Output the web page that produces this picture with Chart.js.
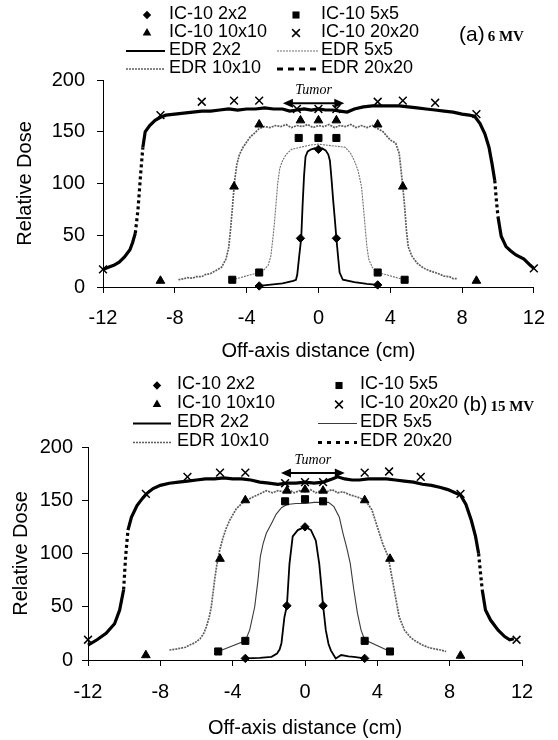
<!DOCTYPE html>
<html><head><meta charset="utf-8">
<script src="https://cdn.jsdelivr.net/npm/chart.js@4.4.1/dist/chart.umd.min.js"></script>
<style>
html,body{margin:0;padding:0;background:#fff;}
#wrap{position:relative;width:558px;height:740px;overflow:hidden;background:#fff;}
.panel{position:absolute;left:0;width:558px;}
#pa{top:0;height:365px;}
#pb{top:365px;height:375px;}
canvas{display:block;}
</style></head><body>
<div id="wrap">
<div class="panel" id="pa"><canvas id="ca" width="558" height="365"></canvas></div>
<div class="panel" id="pb"><canvas id="cb" width="558" height="375"></canvas></div>
</div>
<script>
// ---------- tick labels ----------
const xTicks = [-12, -8, -4, 0, 4, 8, 12];
const yTicks = [0, 50, 100, 150, 200];
const xTitle = 'Off-axis distance (cm)';
const yTitle = 'Relative Dose';
const seriesNames = ['IC-10 2x2', 'IC-10 5x5', 'IC-10 10x10', 'IC-10 20x20', 'EDR 2x2', 'EDR 5x5', 'EDR 10x10', 'EDR 20x20'];

// ---------- panel (a) 6 MV ----------
const aIC2x = [-3.3, -1.0, 0, 1.0, 3.3];
const aIC2y = [1, 47, 133, 47, 2];
const aIC5x = [-4.8, -3.3, -1.1, 0, 1.0, 3.3, 4.8];
const aIC5y = [7, 14, 144, 144, 144, 14, 7];
const aIC10x = [-8.8, -4.7, -3.3, -1.0, 0, 1.0, 3.3, 4.7, 8.8];
const aIC10y = [6, 97, 157, 161, 161, 161, 157, 97, 6];
const aIC20x = [-12, -8.8, -6.5, -4.7, -3.3, -1.2, 0, 1.0, 3.3, 4.7, 6.5, 8.8, 12];
const aIC20y = [17, 166, 179, 180, 180, 172, 172, 172, 179, 180, 178, 167, 18];

const aEDR2x = [-3.3, -2.0, -1.4, -1.25, -1.18, -1.07, -0.96, -0.88, -0.8, -0.72, -0.6, -0.4, -0.2, 0, 0.2, 0.4, 0.55, 0.64, 0.73, 0.82, 0.92, 1.0, 1.1, 1.18, 1.36, 2.0, 2.7, 3.3];
const aEDR2y = [1, 3.5, 6, 7, 12, 30, 47, 80, 108, 126, 131, 133, 134, 133, 134, 132, 128, 122, 104, 84, 64, 47, 28, 14, 7, 4.8, 3, 2];
const aEDR5x = [-4.8, -3.3, -3.0, -2.8, -2.65, -2.55, -2.45, -2.36, -2.27, -2.15, -2.0, -1.8, -1.5, -1.0, -0.5, 0, 0.5, 1.0, 1.5, 1.8, 2.0, 2.2, 2.4, 2.5, 2.6, 2.7, 2.8, 3.0, 3.3, 4.8];
const aEDR5y = [7, 14, 17, 21, 30, 45, 62, 81, 100, 115, 122, 128, 133, 135, 137, 138, 137, 136, 135, 129, 122, 113, 97, 78, 58, 39, 27, 19, 14, 7];
const aEDR10x = [-7.8, -7.5, -7.3, -7.0, -6.8, -6.5, -6.3, -6.0, -5.7, -5.4, -5.15, -5.0, -4.9, -4.8, -4.72, -4.65, -4.55, -4.4, -4.2, -4.0, -3.8, -3.6, -3.3, -3.0, -2.7, -2.4, -2.1, -1.8, -1.5, -1.2, -0.9, -0.6, -0.3, 0, 0.3, 0.6, 0.9, 1.2, 1.5, 1.8, 2.1, 2.4, 2.7, 3.0, 3.3, 3.6, 4.0, 4.3, 4.5, 4.6, 4.7, 4.8, 4.9, 5.0, 5.2, 5.5, 5.8, 6.0, 6.3, 6.5, 6.8, 7.0, 7.3, 7.5, 7.7];
const aEDR10y = [7, 8, 9, 8.5, 10, 10, 12, 13, 16, 19, 27, 38, 55, 75, 92, 105, 118, 128, 135, 140, 145, 148, 153, 155, 154, 156, 155, 157, 154, 156, 155, 157, 154, 156, 155, 157, 154, 156, 155, 157, 154, 156, 154, 156, 153, 150, 142, 139, 129, 113, 97, 78, 55, 39, 30, 23, 19, 17, 15, 14, 12, 10.5, 10, 8, 8];
const aEDR20x = [-12, -11.7, -11.4, -11.1, -10.8, -10.5, -10.35, -10.2, -10.05, -9.9, -9.78, -9.65, -9.4, -9.1, -8.8, -8.5, -8.0, -7.5, -7.0, -6.5, -6.0, -5.5, -5.0, -4.5, -4.0, -3.5, -3.0, -2.5, -2.0, -1.6, -1.2, -0.8, -0.4, 0, 0.4, 0.8, 1.2, 1.6, 2.0, 2.5, 3.0, 3.5, 4.0, 4.5, 5.0, 5.5, 6.0, 6.5, 7.0, 7.5, 8.0, 8.4, 8.7, 9.0, 9.27, 9.5, 9.67, 9.82, 9.91, 10.0, 10.18, 10.45, 10.7, 11.0, 11.45, 11.8, 12];
const aEDR20y = [17, 19, 21, 24, 29, 36, 43, 52, 75, 110, 135, 150, 156, 161, 164, 166, 167, 168, 169, 170, 170, 171, 172, 171, 172, 172, 173, 172, 172, 170, 171, 172, 171, 172, 171, 171, 170, 169, 172, 174, 175, 175, 175, 175, 174, 173, 172, 171, 170, 169, 167, 166, 165, 158, 148, 135, 119, 103, 84, 68, 49, 39, 35, 31, 27, 21, 18];

// ---------- panel (b) 15 MV ----------
const bIC2x = [-3.3, -1.0, 0, 1.0, 3.3];
const bIC2y = [1.5, 51, 125, 51, 1.5];
const bIC5x = [-4.8, -3.3, -1.1, 0, 1.0, 3.3, 4.7];
const bIC5y = [8, 18, 149, 151, 149, 18, 8];
const bIC10x = [-8.8, -4.7, -3.3, -1.0, 0, 1.0, 3.3, 4.7, 8.6];
const bIC10y = [4.5, 95, 150, 159, 160, 159, 150, 95, 4];
const bIC20x = [-12, -8.8, -6.5, -4.7, -3.3, -1.1, 0, 1.0, 3.3, 4.65, 6.4, 8.6, 11.7];
const bIC20y = [19, 156, 172, 176, 176, 166, 167, 167, 176, 177, 172, 156, 19];

const bEDR2x = [-3.3, -2.5, -1.85, -1.55, -1.4, -1.3, -1.14, -1.0, -0.86, -0.68, -0.4, 0, 0.33, 0.6, 0.79, 0.9, 1.0, 1.15, 1.3, 1.43, 1.7, 2.0, 2.4, 2.7, 3.3];
const bEDR2y = [1.5, 2, 3, 6, 10, 16, 40, 51, 90, 116, 122, 125, 122, 112, 90, 70, 51, 28, 15, 9, 1.5, 4.7, 3.5, 3, 1.5];
const bEDR5x = [-4.8, -3.3, -3.06, -2.78, -2.6, -2.47, -2.32, -2.14, -1.86, -1.59, -1.3, -1.0, -0.5, 0, 0.5, 1.0, 1.3, 1.6, 1.9, 2.1, 2.3, 2.5, 2.7, 2.9, 3.1, 3.3, 4.7];
const bEDR5y = [8, 18, 28, 50, 75, 97, 109, 119, 128, 137, 143, 146, 147, 147, 148, 148, 148, 144, 134, 119, 106, 91, 66, 44, 28, 19, 8];
const bEDR10x = [-7.5, -7.2, -6.9, -6.6, -6.4, -6.1, -5.8, -5.6, -5.46, -5.3, -5.18, -5.0, -4.87, -4.72, -4.53, -4.35, -4.17, -3.8, -3.43, -3.1, -2.88, -2.5, -2.14, -1.8, -1.5, -1.2, -0.9, -0.6, -0.3, 0, 0.3, 0.6, 0.9, 1.2, 1.5, 1.8, 2.1, 2.5, 2.9, 3.3, 3.5, 3.7, 4.0, 4.3, 4.6, 4.9, 5.05, 5.2, 5.5, 5.8, 6.0, 6.3, 6.5, 6.8, 7.0, 7.3, 7.5, 7.8];
const bEDR10y = [9.4, 10, 11, 12, 14, 16, 20, 25, 31, 40, 50, 75, 90, 103, 115, 124, 131, 142, 148, 151, 153, 156, 159, 157, 159, 158, 160, 157, 159, 158, 160, 157, 159, 158, 160, 157, 158, 155, 153, 150, 146, 141, 125, 109, 97, 69, 55, 41, 28, 22, 19, 16, 14, 12, 11, 10, 9.4, 8];
const bEDR20x = [-12, -11.5, -11.0, -10.53, -10.25, -10.03, -9.92, -9.79, -9.6, -9.29, -9.0, -8.77, -8.4, -8.0, -7.5, -7.0, -6.5, -6.0, -5.5, -5.0, -4.5, -4.0, -3.5, -3.0, -2.5, -2.0, -1.5, -1.0, -0.5, 0, 0.5, 1.0, 1.5, 1.8, 2.2, 2.6, 3.0, 3.5, 4.0, 4.5, 5.0, 5.5, 6.0, 6.5, 7.0, 7.5, 7.9, 8.3, 8.6, 8.9, 9.2, 9.43, 9.6, 9.71, 9.8, 9.98, 10.26, 10.68, 11.04, 11.32, 11.55];
const bEDR20y = [14, 19, 25, 34, 47, 66, 97, 122, 134, 145, 151.5, 156, 161, 164, 166, 167, 168, 169, 170, 170, 171, 170, 170, 169, 167, 166, 165, 166, 166, 167, 166, 167, 170, 172, 170, 169, 169, 170, 170, 170, 169, 168, 167, 165, 164, 162, 160, 157, 155, 146, 131, 116, 100, 81, 66, 47, 37.5, 28, 22, 19, 20];

// tumour arrow (data coordinates)
const aTumor = {x0: -1.98, x1: 1.44, y: 177.5, labelY: 190};
const bTumor = {x0: -1.33, x1: 2.2, y: 175.6, labelY: 187.5};

const FONT = '"Liberation Sans", Arial, Helvetica, sans-serif';
function pts(xs, ys) { return xs.map((x, i) => ({x: x, y: ys[i]})); }

function drawMarker(ctx, style, x, y, r, bw) {
  ctx.save();
  ctx.fillStyle = '#000'; ctx.strokeStyle = '#000'; ctx.lineWidth = bw || 1;
  ctx.beginPath();
  if (style === 'rectRot') {
    ctx.moveTo(x, y - r); ctx.lineTo(x + r, y); ctx.lineTo(x, y + r); ctx.lineTo(x - r, y); ctx.closePath(); ctx.fill();
  } else if (style === 'rect') {
    const s = r * Math.SQRT1_2; ctx.rect(x - s, y - s, 2 * s, 2 * s); ctx.fill();
  } else if (style === 'triangle') {
    let a = 0;
    ctx.moveTo(x + Math.sin(a) * r, y - Math.cos(a) * r);
    a += 2 * Math.PI / 3; ctx.lineTo(x + Math.sin(a) * r, y - Math.cos(a) * r);
    a += 2 * Math.PI / 3; ctx.lineTo(x + Math.sin(a) * r, y - Math.cos(a) * r);
    ctx.closePath(); ctx.fill();
  } else if (style === 'crossRot') {
    const o = r * Math.SQRT1_2;
    ctx.moveTo(x - o, y - o); ctx.lineTo(x + o, y + o);
    ctx.moveTo(x - o, y + o); ctx.lineTo(x + o, y - o); ctx.stroke();
  }
  ctx.restore();
}

const legendPlugin = {
  id: 'customLegend',
  afterDraw(chart, args, opts) {
    const ctx = chart.ctx;
    ctx.save();
    ctx.textBaseline = 'middle'; ctx.textAlign = 'left'; ctx.fillStyle = '#000';
    opts.items.forEach(it => {
      const ds = chart.data.datasets[it.ds];
      if (ds.showLine) {
        ctx.save();
        ctx.strokeStyle = ds.borderColor; ctx.lineWidth = ds.borderWidth;
        ctx.setLineDash(it.dash || ds.borderDash || []);
        ctx.beginPath(); ctx.moveTo(it.x0, it.y + 1); ctx.lineTo(it.x1, it.y + 1); ctx.stroke();
        ctx.restore();
      } else {
        drawMarker(ctx, ds.pointStyle, it.mx, it.y + 1, ds.pointRadius, ds.borderWidth);
      }
      ctx.font = opts.font;
      ctx.fillText(ds.label, it.tx, it.y);
    });
    ctx.font = opts.tagFont;
    ctx.fillText(opts.tag, opts.tagX, opts.tagY);
    const w = ctx.measureText(opts.tag).width;
    ctx.font = opts.energyFont;
    ctx.fillText(opts.energy, opts.tagX + w + 3, opts.tagY + 2);
    ctx.restore();
  }
};

const tumorPlugin = {
  id: 'tumor',
  afterDatasetsDraw(chart, args, opts) {
    const ctx = chart.ctx, xs = chart.scales.x, ys = chart.scales.y;
    const t = opts.t;
    const x0 = xs.getPixelForValue(t.x0), x1 = xs.getPixelForValue(t.x1), y = ys.getPixelForValue(t.y);
    ctx.save();
    ctx.strokeStyle = '#000'; ctx.fillStyle = '#000'; ctx.lineWidth = 2;
    ctx.beginPath(); ctx.moveTo(x0 + 6, y); ctx.lineTo(x1 - 6, y); ctx.stroke();
    const L = 10, H = 4.5;
    ctx.beginPath(); ctx.moveTo(x0, y); ctx.lineTo(x0 + L, y - H); ctx.lineTo(x0 + L, y + H); ctx.closePath(); ctx.fill();
    ctx.beginPath(); ctx.moveTo(x1, y); ctx.lineTo(x1 - L, y - H); ctx.lineTo(x1 - L, y + H); ctx.closePath(); ctx.fill();
    ctx.font = 'italic 14px "Liberation Serif", "Times New Roman", serif';
    ctx.textAlign = 'center'; ctx.textBaseline = 'middle';
    ctx.fillText('Tumor', (x0 + x1) / 2, ys.getPixelForValue(t.labelY));
    ctx.restore();
  }
};

function steep(c) {
  const dx = Math.abs(c.p1.parsed.x - c.p0.parsed.x) || 1e-6;
  return Math.abs(c.p1.parsed.y - c.p0.parsed.y) / dx > 120;
}

function buildDatasets(d, edr5Color, edr5Dash) {
  const marker = (i, xs, ys, style, r, bw) => ({
    label: seriesNames[i], data: pts(xs, ys), showLine: false, pointStyle: style,
    pointRadius: r, pointBorderWidth: bw, borderWidth: bw, pointBackgroundColor: '#000',
    pointBorderColor: '#000', borderColor: '#000', backgroundColor: '#000', clip: false, order: 0
  });
  const line = (i, xs, ys, color, w, dash, extra) => Object.assign({
    label: seriesNames[i], data: pts(xs, ys), showLine: true, pointRadius: 0,
    borderColor: color, borderWidth: w, borderDash: dash, tension: 0, fill: false, order: 1, clip: false
  }, extra || {});
  return [
    marker(0, d.ic2x, d.ic2y, 'rectRot', 4.2, 1),
    marker(1, d.ic5x, d.ic5y, 'rect', 5, 1),
    marker(2, d.ic10x, d.ic10y, 'triangle', 5, 1),
    marker(3, d.ic20x, d.ic20y, 'crossRot', 5.5, 1.5),
    line(4, d.e2x, d.e2y, '#000', 1.8, []),
    line(5, d.e5x, d.e5y, edr5Color, 1.1, edr5Dash),
    line(6, d.e10x, d.e10y, '#5e5e5e', 1.7, [2, 1]),
    line(7, d.e20x, d.e20y, '#000', 3.2, [], {segment: {borderDash: c => steep(c) ? [3, 3] : undefined}})
  ];
}

function makeChart(id, datasets, L, legendOpts, tumor) {
  return new Chart(document.getElementById(id), {
    type: 'scatter',
    data: {datasets: datasets},
    plugins: [legendPlugin, tumorPlugin],
    options: {
      responsive: false, animation: false, devicePixelRatio: 1,
      layout: {padding: {left: 0, right: L.right, top: L.top, bottom: 0}},
      plugins: {
        legend: {display: false}, tooltip: {enabled: false},
        customLegend: legendOpts, tumor: {t: tumor}
      },
      scales: {
        x: {
          type: 'linear', min: -12, max: 12,
          afterBuildTicks: s => { s.ticks = xTicks.map(v => ({value: v})); },
          afterFit: s => { s.height = L.xh; },
          grid: {drawOnChartArea: false, drawTicks: true, tickLength: 6, color: '#000', lineWidth: 1},
          border: {display: true, color: '#000', width: 1},
          ticks: {color: '#000', font: {family: FONT, size: 20}, padding: L.xpad, maxRotation: 0},
          title: {display: true, text: xTitle, color: '#000', font: {family: FONT, size: 20}, padding: {top: 0, bottom: L.tpad}}
        },
        y: {
          type: 'linear', min: 0, max: 200,
          afterBuildTicks: s => { s.ticks = yTicks.map(v => ({value: v})); },
          afterFit: s => { s.width = L.yw; },
          grid: {drawOnChartArea: false, drawTicks: true, tickLength: 6, color: '#000', lineWidth: 1},
          border: {display: true, color: '#000', width: 1},
          ticks: {color: '#000', font: {family: FONT, size: 20}, padding: L.ypad},
          title: {display: true, text: yTitle, color: '#000', font: {family: FONT, size: 20}, padding: {top: L.ytpad, bottom: 0}}
        }
      }
    }
  });
}

const legendFont = '18px ' + FONT;
const dsA = buildDatasets({
  ic2x: aIC2x, ic2y: aIC2y, ic5x: aIC5x, ic5y: aIC5y, ic10x: aIC10x, ic10y: aIC10y, ic20x: aIC20x, ic20y: aIC20y,
  e2x: aEDR2x, e2y: aEDR2y, e5x: aEDR5x, e5y: aEDR5y, e10x: aEDR10x, e10y: aEDR10y, e20x: aEDR20x, e20y: aEDR20y
}, '#707070', [2, 1]);
makeChart('ca', dsA, {right: 12, top: 80, xh: 78, yw: 103, xpad: 13, tpad: 2, ypad: 12, ytpad: 13}, {
  font: legendFont, tagFont: '21px ' + FONT, energyFont: 'bold 15px "Liberation Serif", serif',
  tag: '(a)', energy: '6 MV', tagX: 459, tagY: 35,
  items: [
    {ds: 0, mx: 147, y: 14, tx: 169}, {ds: 1, mx: 296, y: 14, tx: 321},
    {ds: 2, mx: 147, y: 32, tx: 169}, {ds: 3, mx: 296, y: 32, tx: 321},
    {ds: 4, x0: 126, x1: 165, y: 50, tx: 169}, {ds: 5, x0: 277, x1: 318, y: 50, tx: 321},
    {ds: 6, x0: 126, x1: 165, y: 68, tx: 169}, {ds: 7, x0: 277, x1: 318, y: 68, tx: 321, dash: [6, 5]}
  ]
}, aTumor);

const dsB = buildDatasets({
  ic2x: bIC2x, ic2y: bIC2y, ic5x: bIC5x, ic5y: bIC5y, ic10x: bIC10x, ic10y: bIC10y, ic20x: bIC20x, ic20y: bIC20y,
  e2x: bEDR2x, e2y: bEDR2y, e5x: bEDR5x, e5y: bEDR5y, e10x: bEDR10x, e10y: bEDR10y, e20x: bEDR20x, e20y: bEDR20y
}, '#3a3a3a', []);
makeChart('cb', dsB, {right: 36, top: 82, xh: 80, yw: 88, xpad: 14, tpad: 0, ypad: 9, ytpad: 9}, {
  font: legendFont, tagFont: '20px ' + FONT, energyFont: 'bold 15px "Liberation Serif", serif',
  tag: '(b)', energy: '15 MV', tagX: 463, tagY: 40,
  items: [
    {ds: 0, mx: 157, y: 19.5, tx: 177}, {ds: 1, mx: 339, y: 19.5, tx: 360},
    {ds: 2, mx: 157, y: 38.5, tx: 177}, {ds: 3, mx: 339, y: 38.5, tx: 360},
    {ds: 4, x0: 133, x1: 171, y: 57.5, tx: 177}, {ds: 5, x0: 318, x1: 357, y: 57.5, tx: 360},
    {ds: 6, x0: 133, x1: 171, y: 76.5, tx: 177}, {ds: 7, x0: 318, x1: 357, y: 76.5, tx: 360, dash: [4, 5]}
  ]
}, bTumor);
</script>
</body></html>
